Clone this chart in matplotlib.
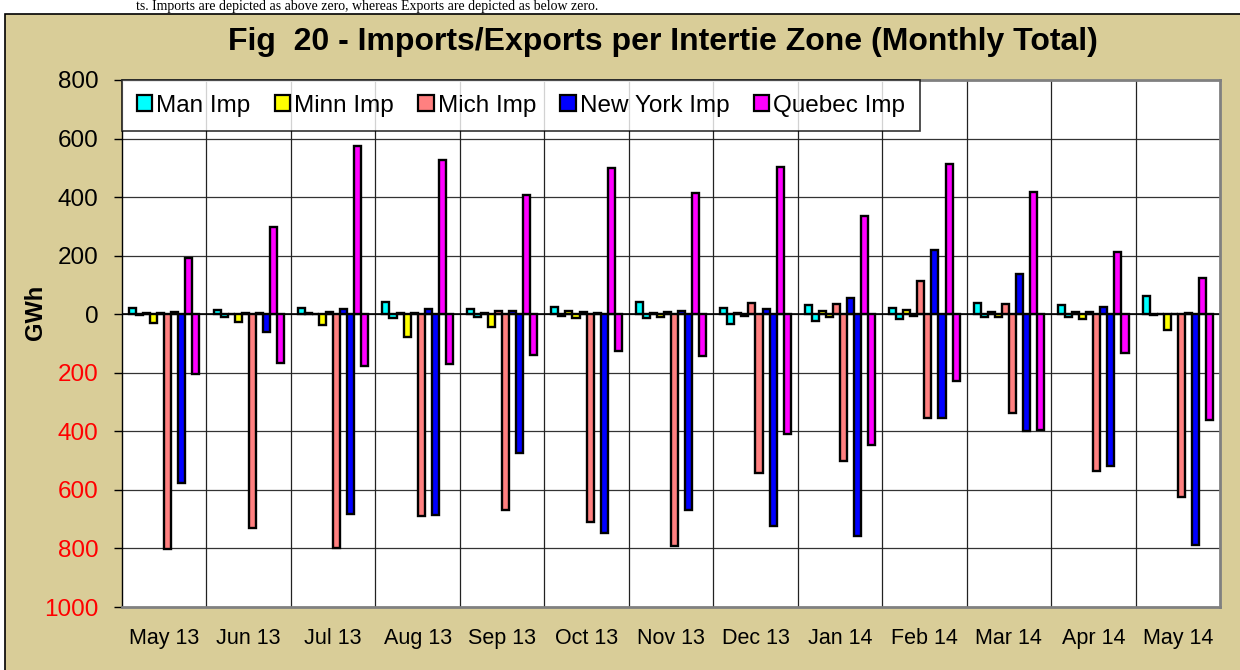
## Imports/Exports per intertie zone, monthly totals
import numpy as np
import matplotlib.pyplot as plt
from matplotlib.patches import Rectangle, Patch

months = ['May 13', 'Jun 13', 'Jul 13', 'Aug 13', 'Sep 13', 'Oct 13', 'Nov 13',
          'Dec 13', 'Jan 14', 'Feb 14', 'Mar 14', 'Apr 14', 'May 14']

# GWh, imports positive, exports negative
man_imp = [22, 15, 20, 41, 18, 25, 42, 20, 31, 22, 38, 32, 61]
man_exp = [-3, -9, 5, -12, -9, -7, -12, -34, -24, -17, -9, -9, -3]
minn_imp = [3, 2, 2, 3, 5, 10, 5, 5, 11, 15, 7, 6, 0]
minn_exp = [-30, -28, -36, -77, -42, -12, -9, -7, -11, -7, -9, -16, -53]
mich_imp = [3, 3, 9, 3, 11, 8, 6, 40, 36, 113, 36, 6, 2]
mich_exp = [-803, -730, -800, -689, -668, -708, -790, -544, -503, -355, -338, -534, -623]
ny_imp = [9, 5, 18, 18, 11, 5, 10, 19, 57, 219, 137, 25, 5]
ny_exp = [-578, -61, -681, -687, -475, -747, -667, -722, -759, -355, -400, -517, -788]
que_imp = [191, 297, 574, 526, 406, 499, 413, 502, 335, 512, 417, 212, 123]
que_exp = [-205, -167, -178, -171, -140, -126, -141, -410, -445, -229, -397, -131, -362]

zones = ['Man Imp', 'Minn Imp', 'Mich Imp', 'New York Imp', 'Quebec Imp']
colors = ['#00FFFF', '#FFFF00', '#FF8080', '#0000FF', '#FF00FF']
series = [man_imp, man_exp, minn_imp, minn_exp, mich_imp, mich_exp,
          ny_imp, ny_exp, que_imp, que_exp]

bg = '#D9CD98'
fig = plt.figure(figsize=(12.4, 6.7), dpi=100)
fig.patch.set_facecolor('white')

# khaki chart frame below the caption strip
fig.patches.append(Rectangle((5/1240, -0.01), 1.0, 1.01 - 14/670, transform=fig.transFigure,
                             facecolor=bg, edgecolor='black', linewidth=1.2, zorder=-10))
fig.text(0.11, 1.0, 'ts. Imports are depicted as above zero, whereas Exports are depicted as below zero.',
         family='Liberation Serif', fontsize=10, va='top', ha='left')

ax = fig.add_axes([122/1240, 1 - 607/670, (1220 - 122)/1240, (607 - 80)/670])
ax.set_facecolor('white')

x = np.arange(len(months))
w = 1/12
for j, vals in enumerate(series):
    ax.bar(x + (j - 4.5)*w, vals, width=w, color=colors[j//2],
           edgecolor='black', linewidth=1.7, zorder=3)

ax.axhline(0, color='black', linewidth=1.2, zorder=2)
ax.set_xlim(-0.5, len(months) - 0.5)
ax.set_ylim(-1000, 800)
ax.set_yticks(np.arange(-1000, 801, 200))
ax.set_yticklabels([str(abs(v)) for v in range(-1000, 801, 200)],
                   family='Liberation Sans', fontsize=17.5)
for lbl, v in zip(ax.get_yticklabels(), range(-1000, 801, 200)):
    lbl.set_color('red' if v < 0 else 'black')
ax.tick_params(axis='y', direction='out', length=6, width=1, pad=11)

ax.set_xticks(x)
ax.set_xticklabels(months, family='Liberation Sans', fontsize=15.5)
ax.tick_params(axis='x', length=0, pad=15)

# grid: horizontal per 200, vertical at month boundaries
for v in range(-800, 800, 200):
    ax.axhline(v, color='#333333', linewidth=0.9, zorder=1)
for b in np.arange(0.5, len(months) - 0.5, 1):
    ax.axvline(b, color='#222222', linewidth=0.9, zorder=1)

for s in ['top', 'right', 'bottom']:
    ax.spines[s].set_color('#808080')
    ax.spines[s].set_linewidth(2)
ax.spines['left'].set_color('black')
ax.spines['left'].set_linewidth(1)

ax.set_ylabel('GWh', fontsize=17, fontweight='bold', family='Liberation Sans')
ax.yaxis.set_label_coords(-0.068, 0.56)

handles = [Patch(facecolor=c, edgecolor='black', linewidth=1.6) for c in colors]
leg = ax.legend(handles, zones, loc='upper left', bbox_to_anchor=(0, 1), ncol=5,
                prop={'family': 'Liberation Sans', 'size': 17.5}, frameon=True, fancybox=False,
                handlelength=0.65, handleheight=0.65, handletextpad=0.15, columnspacing=1.0,
                borderpad=0.6, borderaxespad=0)
leg.get_frame().set_edgecolor('black')
leg.get_frame().set_linewidth(1.2)
leg.set_zorder(5)

fig.text(0.535, 1 - 42/670, 'Fig  20 - Imports/Exports per Intertie Zone (Monthly Total)',
         family='Liberation Sans', fontweight='bold',
         fontsize=23, ha='center', va='center')

fig.savefig('out.png', dpi=100, facecolor=fig.get_facecolor())
